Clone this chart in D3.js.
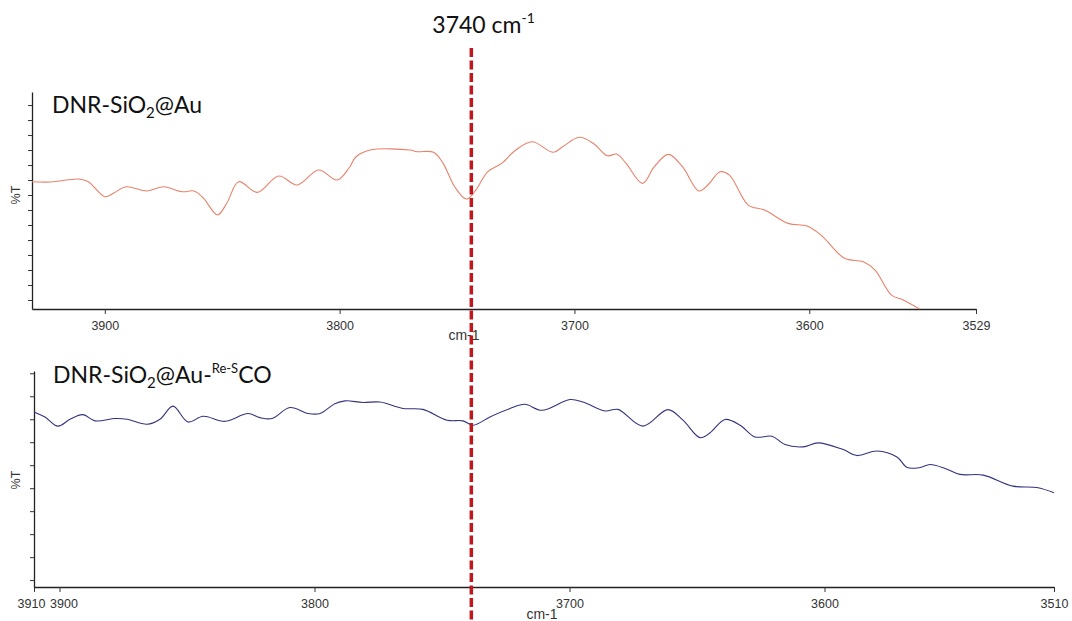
<!DOCTYPE html>
<html>
<head>
<meta charset="utf-8">
<script src="https://cdn.jsdelivr.net/npm/d3@7"></script>
<style>
  html, body { margin: 0; padding: 0; background: #fff; }
  svg { display: block; }
</style>
</head>
<body>
<svg id="chart" width="1072" height="621"></svg>
<script>
// ---------- data ----------
const topWavenumber = [3931,3923,3911,3907,3900,3896,3891,3882,3875,3867,3862,3858,3852,3848,3843,3835,3826,3818,3809,3801,3796,3793,3787,3770,3767,3760,3756,3751,3746,3742,3737,3731,3725,3718,3709,3705,3698,3692,3686,3682,3678,3671,3666,3660,3654,3647,3643,3638,3634,3626,3619,3609,3601,3595,3585,3577,3572,3565,3560,3553];
const topTransmittance = [7.89,7.87,8.07,7.89,6.89,7.15,7.55,7.27,7.55,7.22,7.27,6.80,5.67,6.47,7.89,7.18,8.27,7.67,8.67,8.00,8.80,9.55,10.0,10.0,9.89,9.85,9.13,7.55,6.73,7.33,8.55,9.11,10.0,10.55,9.85,10.22,10.85,10.45,9.62,9.73,9.11,7.78,8.89,9.71,8.89,7.27,7.70,8.55,8.33,6.33,6.00,5.11,4.93,4.33,2.78,2.55,2.00,0.33,0.00,-0.60];

const botWavenumber = [3910,3905.7,3900.6,3895.9,3890.8,3886.1,3878.2,3873.5,3865.7,3860.6,3855.5,3849.6,3843.7,3835.1,3826.1,3821.4,3816.7,3809.6,3802.5,3797.8,3792,3788,3781,3774.3,3765.3,3757.5,3748,3741.8,3737.8,3731.2,3723.3,3717.5,3710.8,3699.8,3694.7,3686.1,3681,3671.2,3661.4,3655.5,3648.8,3645,3639,3633.1,3627.3,3620.6,3615.5,3608.4,3602.5,3592.7,3587.3,3579.4,3571.6,3567.6,3562.5,3558.6,3552.7,3546.9,3537.8,3526.1,3516.7,3510];
const botTransmittance = [7.32,7.10,6.70,7.00,7.20,6.93,7.03,7.00,6.78,7.00,7.57,6.88,7.13,6.91,7.25,7.07,7.03,7.51,7.25,7.25,7.68,7.80,7.73,7.75,7.47,7.43,6.96,6.93,6.74,7.10,7.47,7.65,7.39,7.86,7.75,7.36,7.43,6.70,7.42,6.96,6.20,6.40,6.99,6.74,6.23,6.26,5.90,5.80,5.97,5.68,5.42,5.62,5.36,4.90,4.90,5.03,4.86,4.60,4.57,4.09,4.03,3.80];

const topTickValues = [3900, 3800, 3700, 3600, 3529];
const botTickValues = [3910, 3900, 3800, 3700, 3600, 3510];
const topYTicks = d3.range(0, 14);
const botYTicks = d3.range(0, 10);
const markerWavenumber = 3738.5;
const markerLabel = "3740 cm";
const markerSup = "-1";
const topLabel = ["DNR-SiO", "2", "@Au"];
const botLabel = ["DNR-SiO", "2", "@Au-", "Re-S", "CO"];
const xAxisTitle = "cm-1";
const yAxisTitle = "%T";

// ---------- layout ----------
const svg = d3.select("#chart");
const topX = d3.scaleLinear().domain([3931, 3529]).range([32, 976]);
const topY = d3.scaleLinear().domain([-0.6, 13.87]).range([309, 92]);
const botX = d3.scaleLinear().domain([3910, 3510]).range([34, 1054]);
const botY = d3.scaleLinear().domain([-0.3, 9.1]).range([587, 371]);
const tickFont = "'Liberation Sans', Arial, sans-serif";

function drawPanel(x, y, xs, ys, color, xTicks, yTicks, cmX, cmY, ylabY) {
  const g = svg.append("g");
  const xa = g.append("g").attr("transform", `translate(0,${y.range()[0]})`)
    .call(d3.axisBottom(x).tickValues(xTicks).tickFormat(d3.format("d")).tickSize(5).tickSizeOuter(0));
  xa.select(".domain").attr("stroke", "#222").attr("stroke-width", 1.3);
  xa.selectAll(".tick line").attr("stroke", "#333");
  xa.selectAll(".tick text").attr("fill", "#333").attr("font-size", 12.5)
    .attr("font-family", tickFont).attr("dy", "1.05em")
    .attr("dx", d => d === 3910 ? -3 : (d === 3900 && xTicks.includes(3910) ? 4 : 0));
  const ya = g.append("g").attr("transform", `translate(${x.range()[0]},0)`)
    .call(d3.axisLeft(y).tickValues(yTicks).tickFormat("").tickSize(4).tickSizeOuter(0));
  ya.select(".domain").attr("stroke", "#222").attr("stroke-width", 1.3);
  ya.selectAll(".tick line").attr("stroke", "#333");
  const data = xs.map((w, i) => [w, ys[i]]);
  g.append("path").datum(data)
    .attr("fill", "none").attr("stroke", color).attr("stroke-width", 1.1)
    .attr("d", d3.line().x(d => x(d[0])).y(d => y(d[1])).curve(d3.curveCatmullRom.alpha(0.5)));
  g.append("text").attr("x", cmX).attr("y", cmY).attr("text-anchor", "middle")
    .attr("font-family", tickFont).attr("font-size", 14).attr("fill", "#333")
    .text(xAxisTitle);
  g.append("text").attr("transform", `translate(20,${ylabY}) rotate(-90)`).attr("text-anchor", "middle")
    .attr("font-family", tickFont).attr("font-size", 12.5).attr("fill", "#333")
    .text(yAxisTitle);
  return g;
}

drawPanel(topX, topY, topWavenumber, topTransmittance, "#e8826a", topTickValues, topYTicks, 464, 340, 195);
drawPanel(botX, botY, botWavenumber, botTransmittance, "#33337f", botTickValues, botYTicks, 542, 619, 480);

// panel labels
const lblFont = "Lato, 'Open Sans', sans-serif";
const t1 = svg.append("text").attr("x", 52).attr("y", 113).attr("font-family", lblFont).attr("font-size", 23).attr("fill", "#111");
t1.append("tspan").text(topLabel[0]);
t1.append("tspan").attr("font-size", 15).attr("dy", 5).text(topLabel[1]);
t1.append("tspan").attr("dy", -5).text(topLabel[2]);

const t2 = svg.append("text").attr("x", 53).attr("y", 383).attr("font-family", lblFont).attr("font-size", 23).attr("fill", "#111");
t2.append("tspan").text(botLabel[0]);
t2.append("tspan").attr("font-size", 15).attr("dy", 5).text(botLabel[1]);
t2.append("tspan").attr("dy", -5).text(botLabel[2]);
t2.append("tspan").attr("font-size", 13).attr("dy", -10).text(botLabel[3]);
t2.append("tspan").attr("dy", 10).text(botLabel[4]);

// marker line
const mx = botX(markerWavenumber);
svg.append("line").attr("x1", mx).attr("x2", mx).attr("y1", 48).attr("y2", 621)
  .attr("stroke", "#c0161c").attr("stroke-width", 3.5).attr("stroke-dasharray", "9,3.5");
const mt = svg.append("text").attr("x", mx - 39).attr("y", 33)
  .attr("font-family", lblFont).attr("font-size", 23).attr("fill", "#111");
mt.append("tspan").text(markerLabel);
mt.append("tspan").attr("font-size", 14).attr("dy", -10).text(markerSup);
</script>
</body>
</html>
